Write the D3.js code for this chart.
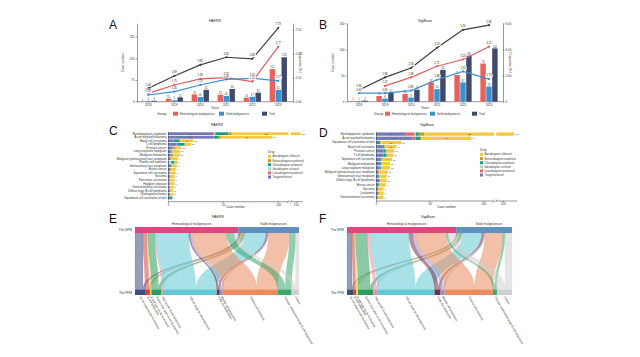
<!DOCTYPE html>
<html><head><meta charset="utf-8">
<script src="https://cdn.jsdelivr.net/npm/d3@7"></script>
<style>body{margin:0;background:#fff}svg{display:block}text{font-family:"Liberation Sans",Arial,sans-serif}</style>
</head><body>
<svg id="c" width="640" height="357"></svg>
<script>
// ---------- Data: panels A/B ----------
const years = ["2018","2019","2020","2021","2022","2023"];
const groupNames = ["Hematological malignancies","Solid malignancies","Total"];
const faersHem = [1, 10, 25, 24, 14, 112];
const faersSolid = [2, 5, 16, 20, 17, 41];
const faersTotal = [3, 15, 41, 44, 31, 153];
const faersHemProp = [0.87, 1.75, 2.38, 2.52, 2.10, 5.77];
const faersSolidProp = [0.70, 1.05, 1.75, 2.34, 2.45, 2.17];
const faersTotalProp = [1.40, 2.69, 3.85, 4.65, 4.48, 7.73];
const faersLeftTicks = [0, 75, 150, 225];
const faersRightTicks = [0, 2.5, 5.0, 7.5];

const vigiHem = [1, 11, 15, 37, 51, 73];
const vigiSolid = [1, 6, 8, 24, 37, 29];
const vigiTotal = [2, 17, 23, 61, 88, 102];
const vigiHemProp = [null, 1.21, 1.86, 2.71, 3.23, 4.21];
const vigiSolidProp = [0.65, 0.65, 0.85, 1.68, 2.32, 1.73];
const vigiTotalProp = [0.90, 1.86, 2.58, 4.13, 5.50, 5.86];
const vigiLeftTicks = [0, 50, 100, 150];
const vigiRightTicks = [0, 2, 4, 6];

// ---------- Data: panels C/D ----------
const drugs = ["Axicabtagene ciloleucel","Brexucabtagene autoleucel","Ciltacabtagene autoleucel","Idecabtagene vicleucel","Lisocabtagene maraleucel","Tisagenlecleucel"];
const faersCats = ["Myelodysplastic syndrome","Acute myeloid leukaemia","Basal cell carcinoma","T-cell lymphoma","Prostate cancer","Lung neoplasm malignant","Malignant melanoma","Malignant genitourinary tract neoplasm","Plasma cell myeloma","Genitourinary tract neoplasm","Breast cancer","Squamous cell carcinoma","Sarcoma","Pancreatic carcinoma","Hodgkin's disease","Gastrointestinal carcinoma","Diffuse large B-cell lymphoma","Cholangiocarcinoma","Squamous cell carcinoma of skin"];
const faersAxi   = [102, 47, 12, 5, 5, 7, 6, 6, 3, 4, 4, 5, 4, 4, 4, 3, 3, 3, 0];
const faersBrexu = [3, 2, 1, 1, 1, 1, 1, 1, 0, 1, 1, 1, 0, 1, 1, 1, 0, 1, 0];
const faersCilta = [12, 4, 5, 6, 1, 1, 1, 1, 3, 1, 1, 0, 1, 0, 0, 0, 1, 0, 3];
const faersIde   = [1, 0, 0, 0, 0, 0, 0, 0, 2, 0, 0, 0, 0, 0, 0, 0, 0, 0, 0];
const faersLiso  = [2, 1, 0, 1, 1, 0, 1, 0, 0, 0, 0, 0, 0, 0, 0, 0, 0, 0, 0];
const faersTisa  = [40, 41, 5, 8, 4, 2, 2, 1, 1, 2, 1, 1, 1, 1, 1, 1, 1, 1, 1];

const vigiCats = ["Myelodysplastic syndrome","Acute myeloid leukaemia","Squamous cell carcinoma of skin","Basal cell carcinoma","Prostate cancer","T-cell lymphoma","Squamous cell carcinoma","Malignant melanoma","Lung neoplasm malignant","Malignant genitourinary tract neoplasm","Genitourinary tract neoplasm","Diffuse large B-cell lymphoma","Breast cancer","Sarcoma","Leukaemia","Gastrointestinal carcinoma"];
const vigiAxi   = [125, 47, 20, 11, 7, 6, 9, 8, 8, 8, 7, 6, 6, 5, 4, 5];
const vigiBrexu = [5, 1, 0, 0, 1, 0, 1, 0, 0, 1, 0, 0, 0, 0, 1, 1];
const vigiCilta = [3, 4, 3, 2, 2, 3, 1, 1, 1, 0, 1, 0, 1, 0, 0, 0];
const vigiIde   = [1, 0, 0, 0, 0, 0, 0, 0, 0, 0, 0, 0, 0, 0, 0, 0];
const vigiLiso  = [9, 3, 0, 0, 0, 0, 0, 0, 1, 0, 0, 1, 0, 0, 0, 0];
const vigiTisa  = [27, 34, 1, 6, 7, 7, 4, 4, 3, 2, 2, 3, 2, 2, 2, 1];
const caseTicks = [0, 50, 100, 150];

// ---------- Data: panels E/F ----------
const spmNames = ["Hematological malignancies","Solid malignancies"];
const fpmNames = ["Acute lymphocytic leukaemia","B-cell lymphoma","B-cell type acute leukaemia","B precursor type acute leukaemia","High grade B-cell lymphoma","Diffuse large B-cell lymphoma","Follicular lymphoma","Mantle cell lymphoma","Plasma cell myeloma","Primary mediastinal large B-cell lymphoma","Others"];
const faersFpmHem   = [16, 8, 2, 14, 2, 66, 3, 4, 68, 16, 8];
const faersFpmSolid = [4, 2, 1, 6, 1, 42, 3, 2, 42, 12, 7];
const vigiFpmHem    = [10, 5, 2, 24, 6, 76, 8, 6, 60, 4, 16];
const vigiFpmSolid  = [2, 1, 2, 6, 2, 38, 4, 2, 36, 4, 14];

// ---------- Styles ----------
const barColors = ["#e8625a", "#3b92d1", "#3f4b6e"];
const lineColors = ["#e05c5c", "#3a8fd0", "#3d3d3d"];
const drugColors = ["#f5c842", "#c49a26", "#1b9c89", "#a8dcc4", "#e0696a", "#7378b6"];
const spmColors = ["#e0467f", "#5f91be"];
const fpmColors = ["#3d4f80", "#d8433f", "#f1d23a", "#2b9d5d", "#ea8fa5", "#62c8d6", "#7b2d4f", "#9a90c8", "#ea8a5d", "#39a86b", "#cfcfcf"];

const svg = d3.select("#c");
const AX = "#333";

function letter(t, x, y) {
  svg.append("text").attr("x", x).attr("y", y).attr("font-size", 12).attr("fill", "#111").text(t);
}

function styleAxis(sel) {
  sel.selectAll("path,line").attr("stroke", AX).attr("stroke-width", 0.5);
  sel.selectAll("text").attr("font-size", 3).attr("fill", "#333");
}

function combo(cfg) {
  const g = svg.append("g");
  const x = d3.scaleBand(years, cfg.band).paddingInner(0.3).paddingOuter(0.15);
  const sub = d3.scaleBand(groupNames, [0, x.bandwidth()]).padding(0.08);
  const yL = d3.scaleLinear([0, cfg.leftMax], [cfg.yBot, cfg.yTop]);
  const yR = d3.scaleLinear([0, cfg.rightMax], [cfg.yBot, cfg.yTop]);
  const cx = i => x(years[i]) + x.bandwidth() / 2;

  g.append("text").attr("x", (cfg.x0 + cfg.x1) / 2).attr("y", cfg.yTop - 1.5).attr("text-anchor", "middle").attr("font-size", 3.6).attr("fill", "#222").text(cfg.title);

  const la = g.append("g").attr("transform", `translate(${cfg.x0},0)`).call(d3.axisLeft(yL).tickValues(cfg.leftTicks).tickSize(1.5).tickSizeOuter(0).tickPadding(1));
  styleAxis(la);
  const ra = g.append("g").attr("transform", `translate(${cfg.x1},0)`).call(d3.axisRight(yR).tickValues(cfg.rightTicks).tickSize(1.5).tickSizeOuter(0).tickPadding(1).tickFormat(cfg.rightFmt));
  styleAxis(ra);
  const xa = g.append("g").attr("transform", `translate(0,${cfg.yBot})`).call(d3.axisBottom(x).tickSize(1.5).tickSizeOuter(0).tickPadding(1));
  xa.select(".domain").remove();
  styleAxis(xa);
  g.append("line").attr("x1", cfg.x0).attr("x2", cfg.x1).attr("y1", cfg.yBot).attr("y2", cfg.yBot).attr("stroke", AX).attr("stroke-width", 0.5);

  g.append("text").attr("transform", `translate(${cfg.x0 - 13},${(cfg.yTop + cfg.yBot) / 2}) rotate(-90)`).attr("text-anchor", "middle").attr("font-size", 3.2).attr("fill", "#333").text("Case number");
  g.append("text").attr("transform", `translate(${cfg.x1 + 6},${(cfg.yTop + cfg.yBot) / 2}) rotate(90)`).attr("text-anchor", "middle").attr("font-size", 3.2).attr("fill", "#333").text("Proportion (%)");
  g.append("text").attr("x", (cfg.x0 + cfg.x1) / 2).attr("y", cfg.yBot + 7).attr("text-anchor", "middle").attr("font-size", 3.2).attr("fill", "#333").text("Years");

  const series = [cfg.hem, cfg.solid, cfg.total];
  series.forEach((arr, k) => {
    arr.forEach((v, i) => {
      const bx = x(years[i]) + sub(groupNames[k]);
      g.append("rect").attr("x", bx).attr("y", yL(v)).attr("width", sub.bandwidth()).attr("height", cfg.yBot - yL(v)).attr("fill", barColors[k]);
      g.append("text").attr("x", bx + sub.bandwidth() / 2).attr("y", yL(v) - 0.8).attr("text-anchor", "middle").attr("font-size", 2.6).attr("fill", "#333").text(v);
    });
  });

  const props = [cfg.hemP, cfg.solidP, cfg.totalP];
  props.forEach((arr, k) => {
    const line = d3.line().defined(d => d != null).x((d, i) => cx(i)).y(d => yR(d));
    g.append("path").attr("d", line(arr)).attr("fill", "none").attr("stroke", lineColors[k]).attr("stroke-width", 1.2);
    arr.forEach((v, i) => {
      if (v == null) return;
      g.append("circle").attr("cx", cx(i)).attr("cy", yR(v)).attr("r", 1.1).attr("fill", lineColors[k]);
    });
  });
  props.forEach((arr, k) => {
    arr.forEach((v, i) => {
      if (v == null) return;
      const tx = cx(i), ty = yR(v) - 2.6;
      g.append("rect").attr("x", tx - 3.6).attr("y", ty - 2.4).attr("width", 7.2).attr("height", 3.2).attr("fill", "#fff").attr("stroke", "#ccc").attr("stroke-width", 0.15);
      g.append("text").attr("x", tx).attr("y", ty).attr("text-anchor", "middle").attr("font-size", 2.6).attr("fill", "#222").text(v.toFixed(2));
    });
  });

  const lg = g.append("g").attr("transform", `translate(0,${cfg.yBot + 12})`);
  lg.append("text").attr("x", cfg.legX[0]).attr("y", 1.2).attr("font-size", 3.4).attr("fill", "#333").text("Group");
  groupNames.forEach((n, k) => {
    lg.append("rect").attr("x", cfg.legX[k + 1]).attr("y", -2).attr("width", 5).attr("height", 4).attr("fill", barColors[k]);
    lg.append("text").attr("x", cfg.legX[k + 1] + 7).attr("y", 1.1).attr("font-size", 2.8).attr("fill", "#333").text(n);
  });
}

function stacked(cfg) {
  const g = svg.append("g");
  const rows = cfg.cats.map((c, i) => {
    const o = { cat: c };
    drugs.forEach((d, j) => o[d] = cfg.vals[j][i]);
    return o;
  });
  const order = drugs.slice().reverse();
  const stack = d3.stack().keys(order)(rows);
  const y = d3.scaleBand(cfg.cats, cfg.yr).padding(0.22);
  const x = d3.scaleLinear(cfg.xd, cfg.xr).clamp(true);

  g.append("text").attr("x", cfg.titleX).attr("y", 126).attr("text-anchor", "middle").attr("font-size", 3.6).attr("fill", "#222").text(cfg.title);

  stack.forEach(layer => {
    const col = drugColors[drugs.indexOf(layer.key)];
    layer.forEach((d, i) => {
      if (d[1] - d[0] <= 0) return;
      const x0 = x(d[0]), x1 = x(d[1]);
      g.append("rect").attr("x", x0).attr("y", y(cfg.cats[i])).attr("width", x1 - x0).attr("height", y.bandwidth()).attr("fill", col);
      if (x1 - x0 > 9) {
        g.append("text").attr("x", (x0 + x1) / 2).attr("y", y(cfg.cats[i]) + y.bandwidth() * 0.8).attr("text-anchor", "middle").attr("font-size", 2.2).attr("fill", "#333").text(d[1] - d[0]);
      }
    });
  });
  rows.forEach((r, i) => {
    const tot = d3.sum(drugs, d => r[d]);
    g.append("text").attr("x", x(tot) + 1).attr("y", y(cfg.cats[i]) + y.bandwidth() * 0.85).attr("font-size", 2.2).attr("fill", "#333").text(tot);
  });
  g.append("rect").attr("x", cfg.breakX - 1).attr("y", cfg.yr[0]).attr("width", 2.2).attr("height", cfg.axisY - cfg.yr[0] - 0.5).attr("fill", "#fff");

  const ya = g.append("g").attr("transform", `translate(${cfg.xr[0]},0)`).call(d3.axisLeft(y).tickSize(0).tickPadding(1.5));
  ya.select(".domain").attr("stroke", AX).attr("stroke-width", 0.4);
  ya.selectAll("text").attr("font-size", 2.9).attr("fill", "#333");

  const xa = g.append("g").attr("transform", `translate(0,${cfg.axisY})`).call(d3.axisBottom(x).tickValues(caseTicks).tickSize(1.2).tickSizeOuter(0).tickPadding(1));
  styleAxis(xa);
  xa.select(".domain").remove();
  g.append("line").attr("x1", cfg.xr[0]).attr("x2", cfg.breakX - 1.5).attr("y1", cfg.axisY).attr("y2", cfg.axisY).attr("stroke", AX).attr("stroke-width", 0.5);
  g.append("line").attr("x1", cfg.breakX + 1.5).attr("x2", cfg.xr[3]).attr("y1", cfg.axisY).attr("y2", cfg.axisY).attr("stroke", AX).attr("stroke-width", 0.5);
  [-1.2, 1.2].forEach(o => g.append("line").attr("x1", cfg.breakX + o - 0.8).attr("x2", cfg.breakX + o + 0.8).attr("y1", cfg.axisY + 1.4).attr("y2", cfg.axisY - 1.4).attr("stroke", AX).attr("stroke-width", 0.5));
  g.append("text").attr("x", (cfg.xr[0] + cfg.xr[3]) / 2).attr("y", cfg.axisY + 6.5).attr("text-anchor", "middle").attr("font-size", 3.2).attr("fill", "#333").text("Case number");

  const lg = g.append("g").attr("transform", `translate(${cfg.leg[0]},${cfg.leg[1]})`);
  lg.append("text").attr("x", 0).attr("y", 0).attr("font-size", 3).attr("fill", "#333").text("Drug");
  drugs.forEach((d, j) => {
    lg.append("rect").attr("x", 0).attr("y", 2 + j * 4.1).attr("width", 3).attr("height", 3).attr("fill", drugColors[j]);
    lg.append("text").attr("x", 4.5).attr("y", 4.4 + j * 4.1).attr("font-size", 2.6).attr("fill", "#333").text(d);
  });
}

function alluvial(cfg) {
  const g = svg.append("g");
  const hem = cfg.hem, sol = cfg.solid;
  const total = d3.sum(hem) + d3.sum(sol);
  const xs = d3.scaleLinear([0, total], [cfg.x0, cfg.x1]);
  const yT = 233, yB = 289.5;
  const hemSum = d3.sum(hem);

  g.append("text").attr("x", cfg.titleX).attr("y", 218).attr("text-anchor", "middle").attr("font-size", 3.6).attr("fill", "#222").text(cfg.title);

  const links = [];
  let topH = 0, topS = hemSum, bot = 0;
  const topPos = [];
  fpmNames.forEach((n, i) => { topPos.push([topH, topS]); topH += hem[i]; topS += sol[i]; });
  const botStart = [];
  fpmNames.forEach((n, i) => { botStart.push(bot); bot += hem[i] + sol[i]; });
  fpmNames.forEach((n, i) => {
    if (hem[i] > 0) links.push({ i, a: topPos[i][0], b: botStart[i], v: hem[i] });
    if (sol[i] > 0) links.push({ i, a: topPos[i][1], b: botStart[i] + hem[i], v: sol[i] });
  });
  const ym = (yT + yB) / 2;
  links.forEach(l => {
    const a0 = xs(l.a), a1 = xs(l.a + l.v), b0 = xs(l.b), b1 = xs(l.b + l.v);
    const p = `M${a0},${yT}C${a0},${ym} ${b0},${ym} ${b0},${yB}L${b1},${yB}C${b1},${ym} ${a1},${ym} ${a1},${yT}Z`;
    g.append("path").attr("d", p).attr("fill", fpmColors[l.i]).attr("fill-opacity", 0.55).attr("stroke", fpmColors[l.i]).attr("stroke-opacity", 0.6).attr("stroke-width", 0.25);
  });

  const tops = [[0, hemSum], [hemSum, total]];
  tops.forEach((t, k) => {
    g.append("rect").attr("x", xs(t[0])).attr("y", 227).attr("width", xs(t[1]) - xs(t[0])).attr("height", 6).attr("fill", spmColors[k]);
    g.append("text").attr("x", (xs(t[0]) + xs(t[1])) / 2 + 5).attr("y", 225).attr("text-anchor", "middle").attr("font-size", 3.2).attr("fill", "#333").text(spmNames[k]);
  });
  fpmNames.forEach((n, i) => {
    const s = botStart[i], e = s + hem[i] + sol[i];
    g.append("rect").attr("x", xs(s)).attr("y", yB).attr("width", xs(e) - xs(s)).attr("height", 5.5).attr("fill", fpmColors[i]);
    const cxp = (xs(s) + xs(e)) / 2;
    g.append("text").attr("transform", `translate(${cxp - 0.5},${yB + 7.5}) rotate(60)`).attr("font-size", 2.9).attr("fill", "#333").text(n);
  });
  g.append("text").attr("x", cfg.x0 - 3).attr("y", 231.2).attr("text-anchor", "end").attr("font-size", 3.2).attr("fill", "#333").text("The SPM");
  g.append("text").attr("x", cfg.x0 - 3).attr("y", 293.5).attr("text-anchor", "end").attr("font-size", 3.2).attr("fill", "#333").text("The FPM");
}

// ---------- Draw ----------
letter("A", 109, 29); letter("B", 319, 29);
letter("C", 109, 135); letter("D", 319, 137);
letter("E", 109, 223); letter("F", 319, 223);

combo({ title: "FAERS", x0: 137, x1: 293, band: [135.3, 291.3], yTop: 23.3, yBot: 101.7,
  leftMax: 270, rightMax: 8.2, leftTicks: faersLeftTicks, rightTicks: faersRightTicks, rightFmt: d3.format(".2f"),
  hem: faersHem, solid: faersSolid, total: faersTotal, hemP: faersHemProp, solidP: faersSolidProp, totalP: faersTotalProp,
  legX: [157, 173, 219, 262] });
combo({ title: "VigiBase", x0: 347, x1: 503, band: [346, 502], yTop: 23.3, yBot: 101.7,
  leftMax: 150, rightMax: 6, leftTicks: vigiLeftTicks, rightTicks: vigiRightTicks, rightFmt: d => d === 0 ? "0" : d3.format(".2f")(d),
  hem: vigiHem, solid: vigiSolid, total: vigiTotal, hemP: vigiHemProp, solidP: vigiSolidProp, totalP: vigiTotalProp,
  legX: [374, 385, 430, 472] });

stacked({ title: "FAERS", titleX: 217, cats: faersCats,
  vals: [faersAxi, faersBrexu, faersCilta, faersIde, faersLiso, faersTisa],
  yr: [131.5, 200.1], xd: [0, 110, 140, 165], xr: [168, 289, 291, 303], breakX: 289.5, axisY: 201.7, leg: [268, 153] });
stacked({ title: "VigiBase", titleX: 427, cats: vigiCats,
  vals: [vigiAxi, vigiBrexu, vigiCilta, vigiIde, vigiLiso, vigiTisa],
  yr: [131.5, 200], xd: [0, 110, 140, 175], xr: [376, 494, 497, 517], breakX: 495, axisY: 201, leg: [480, 151] });

alluvial({ title: "FAERS", titleX: 218, x0: 135, x1: 299, hem: faersFpmHem, solid: faersFpmSolid });
alluvial({ title: "VigiBase", titleX: 428, x0: 347, x1: 512, hem: vigiFpmHem, solid: vigiFpmSolid });
</script>
</body></html>
